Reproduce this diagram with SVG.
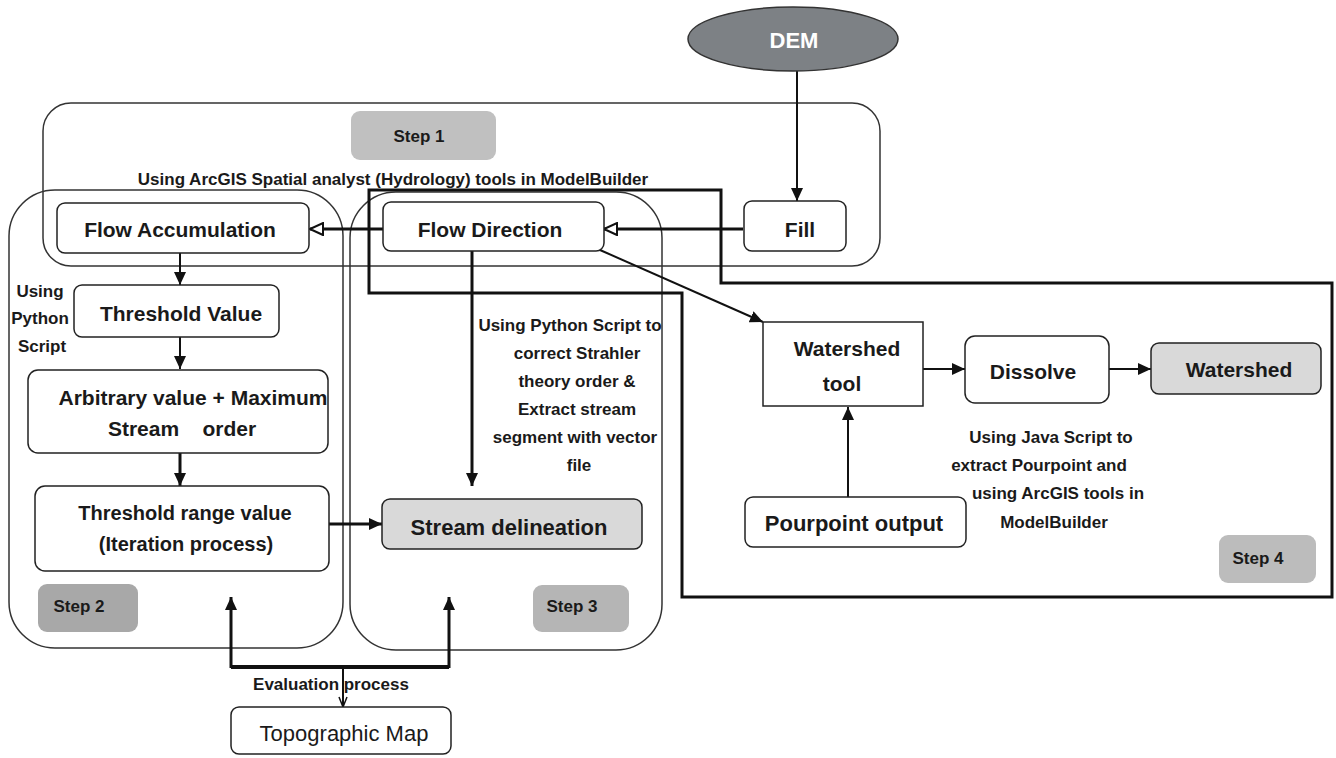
<svg xmlns="http://www.w3.org/2000/svg" width="1336" height="758" viewBox="0 0 1336 758">
<style>
text{font-family:"Liberation Sans",Arial,sans-serif;fill:#1a1a1a;text-anchor:middle}
.b{font-weight:bold;font-size:21px}
.s{font-weight:bold;font-size:17px}
.cont{fill:none;stroke:#333;stroke-width:1.5}
.node{fill:#fff;stroke:#222;stroke-width:1.5}
.gray{fill:#d9d9d9;stroke:#222;stroke-width:1.5}
.lbl{stroke:none}
.ln{fill:none;stroke:#111;stroke-width:2}
.tk{fill:none;stroke:#111;stroke-width:3}
</style>
<defs>
<marker id="ah" markerUnits="userSpaceOnUse" markerWidth="14" markerHeight="12" refX="13" refY="6" orient="auto">
<path d="M0,0 L13,6 L0,12 z" fill="#111"/>
</marker>
<marker id="oh" markerUnits="userSpaceOnUse" markerWidth="16" markerHeight="14" refX="14" refY="7" orient="auto">
<path d="M1,1 L14,7 L1,13 z" fill="#fff" stroke="#111" stroke-width="2"/>
</marker>
<marker id="sh" markerUnits="userSpaceOnUse" markerWidth="12" markerHeight="12" refX="11" refY="5" orient="auto">
<path d="M1,1 L11,5 L1,9" fill="none" stroke="#111" stroke-width="1.5"/>
</marker>
</defs>

<g id="containers">
<rect id="step1-box" class="cont" x="43" y="103" width="837" height="163" rx="28"/>
<rect id="step2-box" class="cont" x="9" y="190" width="334" height="458" rx="46"/>
<rect id="step3-box" class="cont" x="350" y="192" width="312" height="458" rx="46"/>
<path id="step4-box" d="M369,190 L721,190 L721,283 L1332,283 L1332,597 L682,597 L682,293 L369,293 Z" fill="none" stroke="#111" stroke-width="3"/>
</g>

<g id="step-labels">
<g id="step1"><rect class="lbl" x="351" y="111" width="145" height="49" rx="9" fill="#c0c0c0"/><text class="s" x="419" y="142">Step 1</text></g>
<g id="step2"><rect class="lbl" x="38" y="584" width="100" height="48" rx="9" fill="#a8a8a8"/><text class="s" x="79" y="612">Step 2</text></g>
<g id="step3"><rect class="lbl" x="533" y="585" width="96" height="47" rx="9" fill="#b5b5b5"/><text class="s" x="572" y="612">Step 3</text></g>
<g id="step4"><rect class="lbl" x="1219" y="535" width="97" height="48" rx="9" fill="#bcbcbc"/><text class="s" x="1258" y="564">Step 4</text></g>
</g>

<g id="notes">
<text class="s" x="393" y="185">Using ArcGIS Spatial analyst (Hydrology) tools in ModelBuilder</text>
<text class="s" x="40" y="297">Using</text>
<text class="s" x="40" y="324">Python</text>
<text class="s" x="42" y="352">Script</text>
<text class="s" x="570" y="331">Using Python Script to</text>
<text class="s" x="577" y="359">correct Strahler</text>
<text class="s" x="577" y="387">theory order &amp;</text>
<text class="s" x="577" y="415">Extract stream</text>
<text class="s" x="575" y="443">segment with vector</text>
<text class="s" x="579" y="471">file</text>
<text class="s" x="1051" y="443">Using Java Script to</text>
<text class="s" x="1039" y="471">extract Pourpoint and</text>
<text class="s" x="1058" y="499">using ArcGIS tools in</text>
<text class="s" x="1054" y="528">ModelBuilder</text>
<text class="s" x="331" y="690">Evaluation process</text>
</g>

<g id="connectors">
<line class="ln" x1="797" y1="71" x2="797" y2="201" marker-end="url(#ah)"/>
<line class="tk" x1="743" y1="229" x2="604" y2="229" marker-end="url(#oh)"/>
<line class="tk" x1="383" y1="229" x2="310" y2="229" marker-end="url(#oh)"/>
<line class="ln" x1="180" y1="253" x2="180" y2="285" marker-end="url(#ah)"/>
<line class="ln" x1="180" y1="337" x2="180" y2="369" marker-end="url(#ah)"/>
<line class="tk" x1="180" y1="453" x2="180" y2="486" marker-end="url(#ah)"/>
<line class="tk" x1="329" y1="524" x2="382" y2="524" marker-end="url(#ah)"/>
<line class="tk" x1="472" y1="251" x2="472" y2="486" marker-end="url(#ah)"/>
<line class="ln" x1="600" y1="250" x2="763" y2="322" marker-end="url(#ah)"/>
<line class="ln" x1="923" y1="369" x2="965" y2="369" marker-end="url(#ah)"/>
<line class="ln" x1="1109" y1="369" x2="1151" y2="369" marker-end="url(#ah)"/>
<line class="ln" x1="848" y1="497" x2="848" y2="407" marker-end="url(#ah)"/>
<path d="M231,667 L449,667" fill="none" stroke="#111" stroke-width="4"/>
<line class="tk" x1="231" y1="668" x2="231" y2="597" marker-end="url(#ah)"/>
<line class="tk" x1="449" y1="668" x2="449" y2="597" marker-end="url(#ah)"/>
<line class="ln" x1="343" y1="667" x2="343" y2="707" marker-end="url(#sh)"/>
</g>

<g id="dem"><ellipse cx="793" cy="39" rx="105" ry="32" fill="#7d8185" stroke="#333" stroke-width="1.5"/><text x="794" y="48" style="font-weight:bold;font-size:22px;fill:#fff">DEM</text></g>
<g id="fill"><rect class="node" x="744" y="201" width="102" height="50" rx="8"/><text class="b" x="800" y="237">Fill</text></g>
<g id="flow-direction"><rect class="node" x="383" y="202" width="221" height="49" rx="8"/><text class="b" x="490" y="237">Flow Direction</text></g>
<g id="flow-accumulation"><rect class="node" x="57" y="203" width="252" height="50" rx="8"/><text class="b" x="180" y="237">Flow Accumulation</text></g>
<g id="threshold-value"><rect class="node" x="74" y="285" width="205" height="52" rx="8"/><text class="b" x="181" y="321">Threshold Value</text></g>
<g id="arbitrary"><rect class="node" x="28" y="370" width="300" height="83" rx="10"/><text class="b" x="193" y="405">Arbitrary value + Maximum</text><text class="b" x="182" y="436" style="white-space:pre">Stream    order</text></g>
<g id="threshold-range"><rect class="node" x="35" y="486" width="294" height="85" rx="10"/><text class="b" x="185" y="520" style="font-size:20px">Threshold range value</text><text class="b" x="186" y="551" style="font-size:20px">(Iteration process)</text></g>
<g id="stream-delineation"><rect class="gray" x="382" y="499" width="260" height="50" rx="8"/><text class="b" x="509" y="535" style="font-size:22px">Stream delineation</text></g>
<g id="watershed-tool"><rect class="node" x="763" y="322" width="160" height="84"/><text class="b" x="847" y="356">Watershed</text><text class="b" x="842" y="391">tool</text></g>
<g id="dissolve"><rect class="node" x="965" y="336" width="144" height="67" rx="10"/><text class="b" x="1033" y="379">Dissolve</text></g>
<g id="watershed"><rect class="gray" x="1151" y="343" width="170" height="51" rx="8"/><text class="b" x="1239" y="377">Watershed</text></g>
<g id="pourpoint"><rect class="node" x="745" y="497" width="221" height="50" rx="8"/><text class="b" x="854" y="531" style="font-size:22px">Pourpoint output</text></g>
<g id="topographic-map"><rect class="node" x="231" y="707" width="220" height="47" rx="8"/><text x="344" y="741" style="font-size:22px">Topographic Map</text></g>
</svg>
